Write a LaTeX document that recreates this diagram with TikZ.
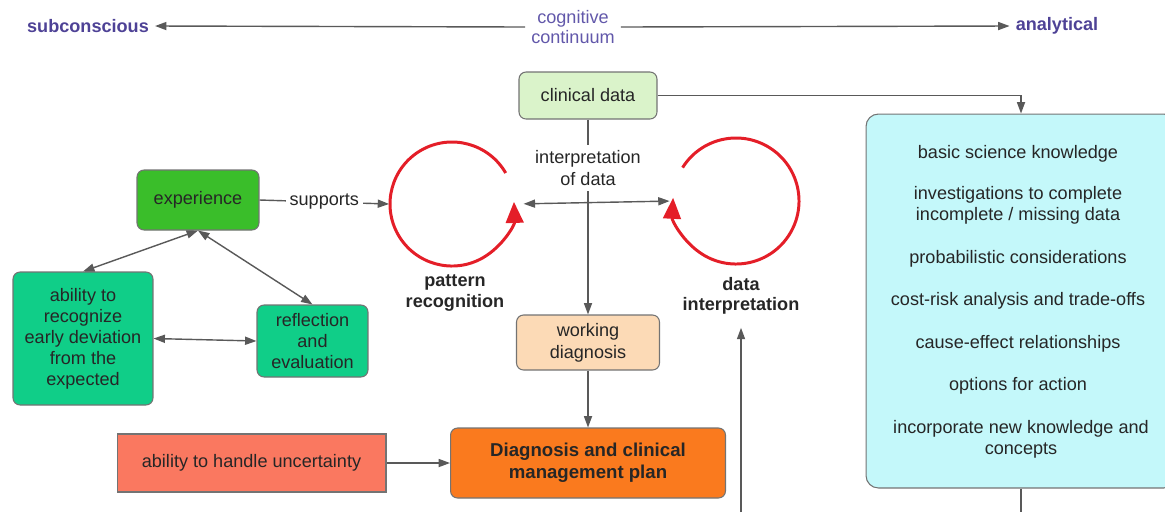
\documentclass[tikz,border=0pt]{standalone}
\usepackage{fontspec}
\setmainfont{Liberation Sans}
\usepackage{tikz}
\usetikzlibrary{arrows.meta}
\usepackage{xcolor}

\definecolor{cdgreen}{RGB}{218,243,202}
\definecolor{wdpeach}{RGB}{252,218,182}
\definecolor{dcporange}{RGB}{250,122,30}
\definecolor{uncred}{RGB}{250,120,96}
\definecolor{expgreen}{RGB}{58,190,42}
\definecolor{skillgreen}{RGB}{16,206,136}
\definecolor{kbcyan}{RGB}{196,248,250}
\definecolor{polepurple}{RGB}{78,66,150}
\definecolor{contpurple}{RGB}{98,88,170}
\definecolor{loopred}{RGB}{228,30,40}

\tikzset{
  box/.style={draw=black!55, line width=0.6pt, rounded corners=4pt, align=center},
  pole/.style={text=polepurple, font=\fontsize{10.3}{12}\selectfont\bfseries},
  tag/.style={align=center, font=\fontsize{10.3}{11.5}\selectfont\bfseries},
  line/.style={draw=black!65, line width=0.8pt},
  arr/.style={line, -{Triangle[length=6.5pt,width=4.6pt]}},
  dbl/.style={line, {Triangle[length=6.5pt,width=4.6pt]}-{Triangle[length=6.5pt,width=4.6pt]}},
  cyc/.style={draw=loopred, line width=1.7pt, -{Triangle[length=12pt,width=10pt]}}
}

\begin{document}
\begin{tikzpicture}[x=0.02cm, y=-0.02cm, font=\fontsize{10.3}{12}\selectfont,
  every node/.append style={text=black!85}]
\clip (0,0) rectangle (1165,512);

% cognitive continuum
\node [pole] (sub) at (88,26) {subconscious};
\node [pole] (ana) at (1057,26) {analytical};
\node [text=contpurple, align=center, font=\fontsize{10.3}{11.3}\selectfont] (cc) at (573,27) {cognitive\\continuum};
\draw [arr] (cc.west) -- (sub.east);
\draw [arr] (cc.east) -- (ana.west);

% main column
\node [box, fill=cdgreen, minimum width=2.76cm, minimum height=0.94cm] (cd) at (588,95.5) {clinical data};
\node [align=center] (interp) at (588,168) {interpretation\\of data};
\node [box, fill=wdpeach, minimum width=2.86cm, minimum height=1.1cm, font=\fontsize{10.3}{12.5}\selectfont] (wd) at (588,342.5) {working\\diagnosis};
\node [box, fill=dcporange, minimum width=5.5cm, minimum height=1.4cm, font=\fontsize{10.6}{12.5}\selectfont\bfseries] (dcp) at (588,463) {Diagnosis and clinical\\management plan};
\node [box, fill=uncred, rounded corners=0pt, minimum width=5.38cm, minimum height=1.16cm] (unc) at (251.5,463) {ability to handle uncertainty};

% the two loops
\node [circle, minimum size=2.5cm] (pr) at (452,204) {};
\node [circle, minimum size=2.5cm] (dip) at (736,201) {};
\draw [cyc] ([shift={(-30:62)}]pr.center) arc [start angle=-30, end angle=-362, radius=62];
\draw [cyc] ([shift={(-148:63)}]dip.center) arc [start angle=-148, end angle=183, radius=63];
\node [tag] (prl) at (455,293) {pattern\\recognition};
\node [tag] (dil) at (741,296) {data\\interpretation};

% experience cluster
\node [box, fill=expgreen, minimum width=2.44cm, minimum height=1.2cm] (exp) at (198,200) {experience};
\node [box, fill=skillgreen, minimum width=2.8cm, minimum height=2.66cm] (abl) at (83,338.5) {ability to\\recognize\\early deviation\\from the\\expected};
\node [box, fill=skillgreen, minimum width=2.22cm, minimum height=1.44cm] (ref) at (312.5,341) {reflection\\and\\evaluation};

% analytical knowledge
\node [box, fill=kbcyan, rounded corners=7pt, minimum width=6.2cm, minimum height=7.48cm] (kb) at (1021,301) {};
\node (kb1) at (1018,154) {basic science knowledge};
\node [align=center] (kb2) at (1018,205.5) {investigations to complete\\incomplete / missing data};
\node (kb3) at (1018,259) {probabilistic considerations};
\node (kb4) at (1018,301) {cost-risk analysis and trade-offs};
\node (kb5) at (1018,344) {cause-effect relationships};
\node (kb6) at (1018,386) {options for action};
\node [align=center] (kb7) at (1021,439.5) {incorporate new knowledge and\\concepts};

\coordinate (foot) at (741,512);
\coordinate (kbfoot) at (1021,512);

% connectors
\draw [arr] (cd.east) -| (kb.north);
\draw [line] (kb.south) -- (kbfoot);
\draw [line] (cd.south) -- (interp.north);
\draw [arr] (interp.south) -- (wd.north);
\draw [arr] (wd.south) -- (dcp.north);
\draw [arr] (unc.east) -- (dcp.west);
\draw [dbl, shorten <=5pt, shorten >=2pt] (pr.east) -- (dip.west);
\draw [arr, shorten >=4pt] (foot) -- (dil.south);
\draw [arr] (exp.east) -- node [fill=white, inner sep=2pt] {supports} (pr.west);
\draw [dbl] (exp.south) -- (abl.north);
\draw [dbl] (exp.south) -- (ref.north);
\draw [dbl] (abl.east) -- (ref.west);
\end{tikzpicture}
\end{document}
